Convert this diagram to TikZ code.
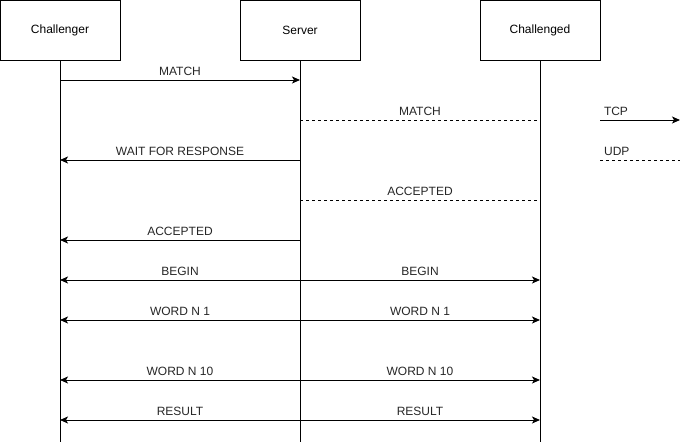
\documentclass[tikz,border=0pt]{standalone}
\usepackage{fontspec}
\setmainfont{Liberation Sans}
\usetikzlibrary{positioning,arrows.meta,calc}

\begin{document}
\begin{tikzpicture}[x=1pt, y=-1pt,
    actor/.style={draw, line width=1pt, minimum width=120pt, minimum height=60pt,
                  inner sep=0pt, font=\fontsize{12}{14}\selectfont},
    life/.style={line width=1pt},
    tcp/.style={-{Stealth[length=8pt, width=7pt, inset=2pt]}, line width=1pt},
    tcpboth/.style={{Stealth[length=8pt, width=7pt, inset=2pt]}-{Stealth[length=8pt, width=7pt, inset=2pt]},
                    line width=1pt},
    udp/.style={line width=1pt, dash pattern=on 3pt off 3pt},
    msg/.style={above=4pt, inner sep=0pt, text depth=0pt, font=\fontsize{12}{14}\selectfont,
                text=black!85}]
  \useasboundingbox (0,0) rectangle (689,442);

  % participants
  \node[actor] (chr) at (60,30) {Challenger};
  \node[actor] (srv) at (300,30) {Server};
  \node[actor] (chd) at (540,30) {Challenged};
  \coordinate (chrEnd) at (60,442);
  \coordinate (srvEnd) at (300,442);
  \coordinate (chdEnd) at (540,442);
  \draw[life] (chr) -- (chrEnd);
  \draw[life] (srv) -- (srvEnd);
  \draw[life] (chd) -- (chdEnd);

  % message rows
  \coordinate (r1) at (0,80);
  \coordinate (r2) at (0,120);
  \coordinate (r3) at (0,160);
  \coordinate (r4) at (0,200);
  \coordinate (r5) at (0,240);
  \coordinate (r6) at (0,280);
  \coordinate (r7) at (0,320);
  \coordinate (r8) at (0,380);
  \coordinate (r9) at (0,420);

  \draw[tcp] (chr |- r1) -- (srv |- r1) node[msg, midway] {MATCH};
  \draw[udp] (srv |- r2) -- (chd |- r2) node[msg, midway] {MATCH};
  \draw[tcp] (srv |- r3) -- (chr |- r3) node[msg, midway] {WAIT FOR RESPONSE};
  \draw[udp] (srv |- r4) -- (chd |- r4) node[msg, midway] {ACCEPTED};
  \draw[tcp] (srv |- r5) -- (chr |- r5) node[msg, midway] {ACCEPTED};
  \draw[tcpboth] (chr |- r6) -- (chd |- r6) node[msg, pos=0.25] {BEGIN} node[msg, pos=0.75] {BEGIN};
  \draw[tcpboth] (chr |- r7) -- (chd |- r7) node[msg, pos=0.25] {WORD N 1} node[msg, pos=0.75] {WORD N 1};
  \draw[tcpboth] (chr |- r8) -- (chd |- r8) node[msg, pos=0.25] {WORD N 10} node[msg, pos=0.75] {WORD N 10};
  \draw[tcpboth] (chr |- r9) -- (chd |- r9) node[msg, pos=0.25] {RESULT} node[msg, pos=0.75] {RESULT};

  % legend
  \coordinate (tcpA) at (600,120);
  \coordinate (tcpB) at (680,120);
  \coordinate (udpA) at (600,160);
  \coordinate (udpB) at (680,160);
  \draw[tcp] (tcpA) -- (tcpB) node[msg, pos=0.2] {TCP};
  \draw[udp] (udpA) -- (udpB) node[msg, pos=0.21] {UDP};
\end{tikzpicture}
\end{document}
